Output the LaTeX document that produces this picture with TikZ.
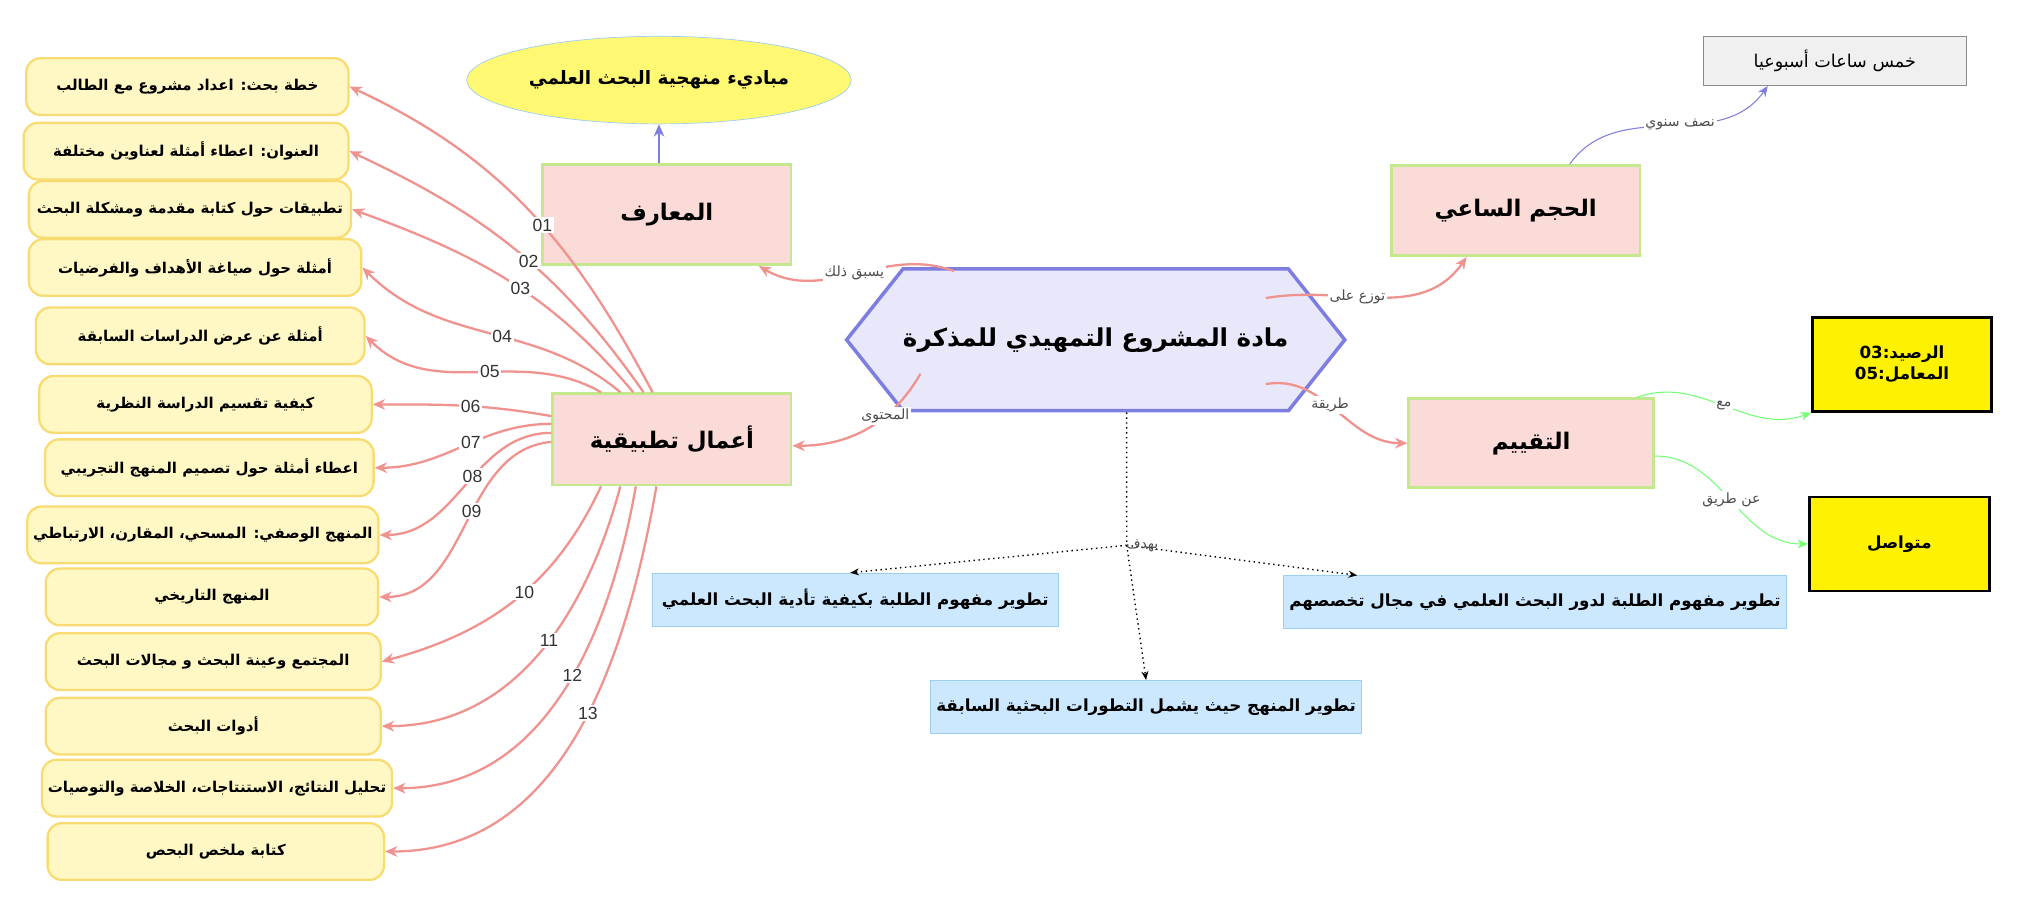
\documentclass[tikz,border=0pt]{standalone}
\usepackage{fontspec}
\setmainfont{Liberation Sans}
\newfontfamily\arabicfont[Script=Arabic]{DejaVu Sans}
\TeXXeTstate=1
\usetikzlibrary{arrows.meta,shapes.symbols,shapes.geometric}
\newcommand\ar[1]{{\arabicfont\beginR #1\endR}}
\def\pxu{0.733pt}
\definecolor{pinkfill}{HTML}{FADBD8}
\definecolor{greenline}{HTML}{C3E88D}
\definecolor{pinkline}{HTML}{F0928E}
\definecolor{itemfill}{HTML}{FFF8C4}
\definecolor{itemline}{HTML}{F8DC72}
\definecolor{bluefill}{HTML}{CCE8FF}
\definecolor{blueline}{HTML}{9CCFF0}
\definecolor{hexfill}{HTML}{E8E8FA}
\definecolor{hexline}{HTML}{7E7EE0}
\tikzset{
  mainbox/.style={draw=greenline,line width=1.5pt,fill=pinkfill,font=\bfseries\fontsize{13}{15}\selectfont},
  item/.style={draw=itemline,line width=1.3pt,fill=itemfill,rounded corners=8pt,minimum height=44*\pxu,font=\bfseries\fontsize{8.5}{10}\selectfont},
  goal/.style={draw=blueline,fill=bluefill,minimum height=41*\pxu,font=\bfseries\fontsize{9.5}{11}\selectfont},
  actarrow/.style={draw=pinkline,line width=1.3pt,-{Stealth[length=7pt,width=6pt]}},
  numlab/.style={fill=white,inner sep=1pt,font=\fontsize{10}{11}\selectfont,text=black!80},
  edgelab/.style={fill=white,inner sep=1pt,font=\fontsize{8}{9}\selectfont,text=black!70},
  thinarrow/.style={line width=0.6pt,-{Stealth[length=6pt,width=5pt]}}
}
\begin{document}
\begin{tikzpicture}[x=0.02584cm,y=-0.02584cm]
\useasboundingbox[fill=white] (0,0) rectangle (1568,700.4);
% centre and side nodes
\node[signal,signal to=west and east,signal pointer angle=103,draw=hexline,line width=2pt,fill=hexfill,
  minimum width=360*\pxu,minimum height=110*\pxu,inner sep=0pt,font=\bfseries\fontsize{14}{16}\selectfont]
  (hex) at (848,263) {\ar{مادة المشروع التمهيدي للمذكرة}};
\node[ellipse,draw=blueline,fill=yellow!55,minimum width=230*\pxu,minimum height=68*\pxu,
  font=\bfseries\fontsize{10.5}{12}\selectfont] (prin) at (510,62) {\ar{مباديء منهجية البحث العلمي}};
\node[mainbox,minimum width=193*\pxu,minimum height=78*\pxu] (know) at (516,166) {\ar{المعارف}};
\node[mainbox,minimum width=185*\pxu,minimum height=71*\pxu] (act) at (520,340) {\ar{أعمال تطبيقية}};
\node[mainbox,minimum width=193*\pxu,minimum height=70*\pxu] (vol) at (1173,163) {\ar{الحجم الساعي}};
\node[mainbox,minimum width=190*\pxu,minimum height=69*\pxu] (eval) at (1185,343) {\ar{التقييم}};
\node[draw=black!45,line width=0.8pt,fill=black!6,minimum width=204*\pxu,minimum height=38*\pxu,
  font=\fontsize{10}{12}\selectfont] (hours) at (1420,47) {\ar{خمس ساعات أسبوعيا}};
\node[draw,line width=1.5pt,fill=yellow,minimum width=139*\pxu,minimum height=73*\pxu,align=center,
  font=\bfseries\fontsize{9.5}{12}\selectfont] (credit) at (1472,282)
  {\ar{الرصيد:\beginL03\endL}\\\ar{المعامل:\beginL05\endL}};
\node[draw,line width=1.5pt,fill=yellow,minimum width=140*\pxu,minimum height=73*\pxu,
  font=\bfseries\fontsize{9.5}{12}\selectfont] (cont) at (1470,421) {\ar{متواصل}};
\node[goal,minimum width=315*\pxu] (goal1) at (662,464) {\ar{تطوير مفهوم الطلبة بكيفية تأدية البحث العلمي}};
\node[goal,minimum width=370*\pxu] (goal2) at (1188,466) {\ar{تطوير مفهوم الطلبة لدور البحث  العلمي في مجال تخصصهم}};
\node[goal,minimum width=320*\pxu] (goal3) at (887,547) {\ar{تطوير المنهج حيث يشمل التطورات البحثية السابقة}};
% practical items
\foreach \i/\cx/\cy/\w/\txt in {
  1/145/67/250/خطة بحث: اعداد مشروع مع الطالب,
  2/144/117/252/العنوان: اعطاء أمثلة لعناوين مختلفة,
  3/147/162/250/تطبيقات حول كتابة مقدمة ومشكلة البحث,
  4/151/207/258/أمثلة حول صياغة الأهداف والفرضيات,
  5/155/260/255/أمثلة عن عرض الدراسات السابقة,
  6/159/313/258/كيفية تقسيم الدراسة النظرية,
  7/162/362/255/اعطاء أمثلة حول تصميم المنهج التجريبي,
  8/157/414/250/المنهج الوصفي: المسحي، المقارن، الارتباطي,
  9/164/462/258/المنهج التاريخي,
  10/165/512/260/المجتمع وعينة البحث و مجالات البحث,
  11/165/562/260/أدوات البحث,
  12/168/610/263/تحليل النتائج، الاستنتاجات، الخلاصة والتوصيات,
  13/167/659/261/كتابة ملخص البحص}
  \node[item,minimum width=\w*\pxu] (b\i) at (\cx,\cy) {\ar{\txt}};
\foreach \i/\dx/\dy/\anc/\o/\n/\lab in {
  1/-15/0/north/118/-25/01,
  2/-22/0/north/125/-25/02,
  3/-30/0/north/130/-20/03,
  4/-40/0/north/140/-45/04,
  5/-55/0/north/150/-45/05,
  6/0/18/west/170/0/06,
  7/0/12/west/180/0/07,
  8/0/5/west/180/0/08,
  9/0/-2/west/185/0/09,
  10/-55/0/south/-115/15/10,
  11/-40/0/south/-105/0/11,
  12/-28/0/south/-100/0/12,
  13/-12/0/south/-100/0/13}
  \draw[actarrow] ([xshift=\dx*\pxu,yshift=\dy*\pxu]act.\anc) to[out=\o,in=\n] node[numlab,pos=0.45] {\lab} (b\i.east);
% links from the centre
\draw[draw=hexline,line width=1.3pt,-{Stealth[length=7pt,width=6pt]}] (know.north -| prin.south) -- (prin.south);
\draw[actarrow] ([xshift=-110*\pxu,yshift=-3*\pxu]hex.north) to[out=160,in=-30] node[edgelab,pos=0.5] {\ar{يسبق ذلك}} ([xshift=-26*\pxu]know.south east);
\draw[actarrow] ([xshift=-136*\pxu,yshift=30*\pxu]hex.south) to[out=-120,in=0] node[edgelab,pos=0.35] {\ar{المحتوى}} ([yshift=-5*\pxu]act.east);
\draw[actarrow] ([xshift=132*\pxu,yshift=-24*\pxu]hex.north) to[out=10,in=-125] node[edgelab,pos=0.4] {\ar{توزع على}} ([xshift=-38*\pxu]vol.south);
\draw[actarrow] ([xshift=132*\pxu,yshift=22*\pxu]hex.south) to[out=10,in=180] node[edgelab,pos=0.45] {\ar{طريقة}} (eval.west);
\draw[thinarrow,draw=hexline] ([xshift=42*\pxu]vol.north) to[out=55,in=-125] node[edgelab,pos=0.55] {\ar{نصف سنوي}} ([xshift=-52*\pxu]hours.south);
\draw[thinarrow,draw=green!55] ([xshift=82*\pxu]eval.north) to[out=20,in=200] node[edgelab,pos=0.5] {\ar{مع}} (credit.south west);
\draw[thinarrow,draw=green!55] ([yshift=-10*\pxu]eval.east) to[out=0,in=180] node[edgelab,pos=0.5] {\ar{عن طريق}} (cont.west);
% aims
\coordinate (aim) at (872,422);
\draw[dotted,line width=0.8pt] ([xshift=24*\pxu]hex.south) -- (aim);
\draw[dotted,line width=0.8pt,-{Stealth[length=5pt,width=4pt]}] (aim) -- ([xshift=-4*\pxu]goal1.north);
\draw[dotted,line width=0.8pt,-{Stealth[length=5pt,width=4pt]}] (aim) -- ([xshift=-138*\pxu]goal2.north);
\draw[dotted,line width=0.8pt,-{Stealth[length=5pt,width=4pt]}] (aim) -- (goal3.north);
\node[edgelab,fill=none] (aimlab) at ([xshift=12*\pxu]aim) {\ar{يهدف}};
\end{tikzpicture}
\end{document}
